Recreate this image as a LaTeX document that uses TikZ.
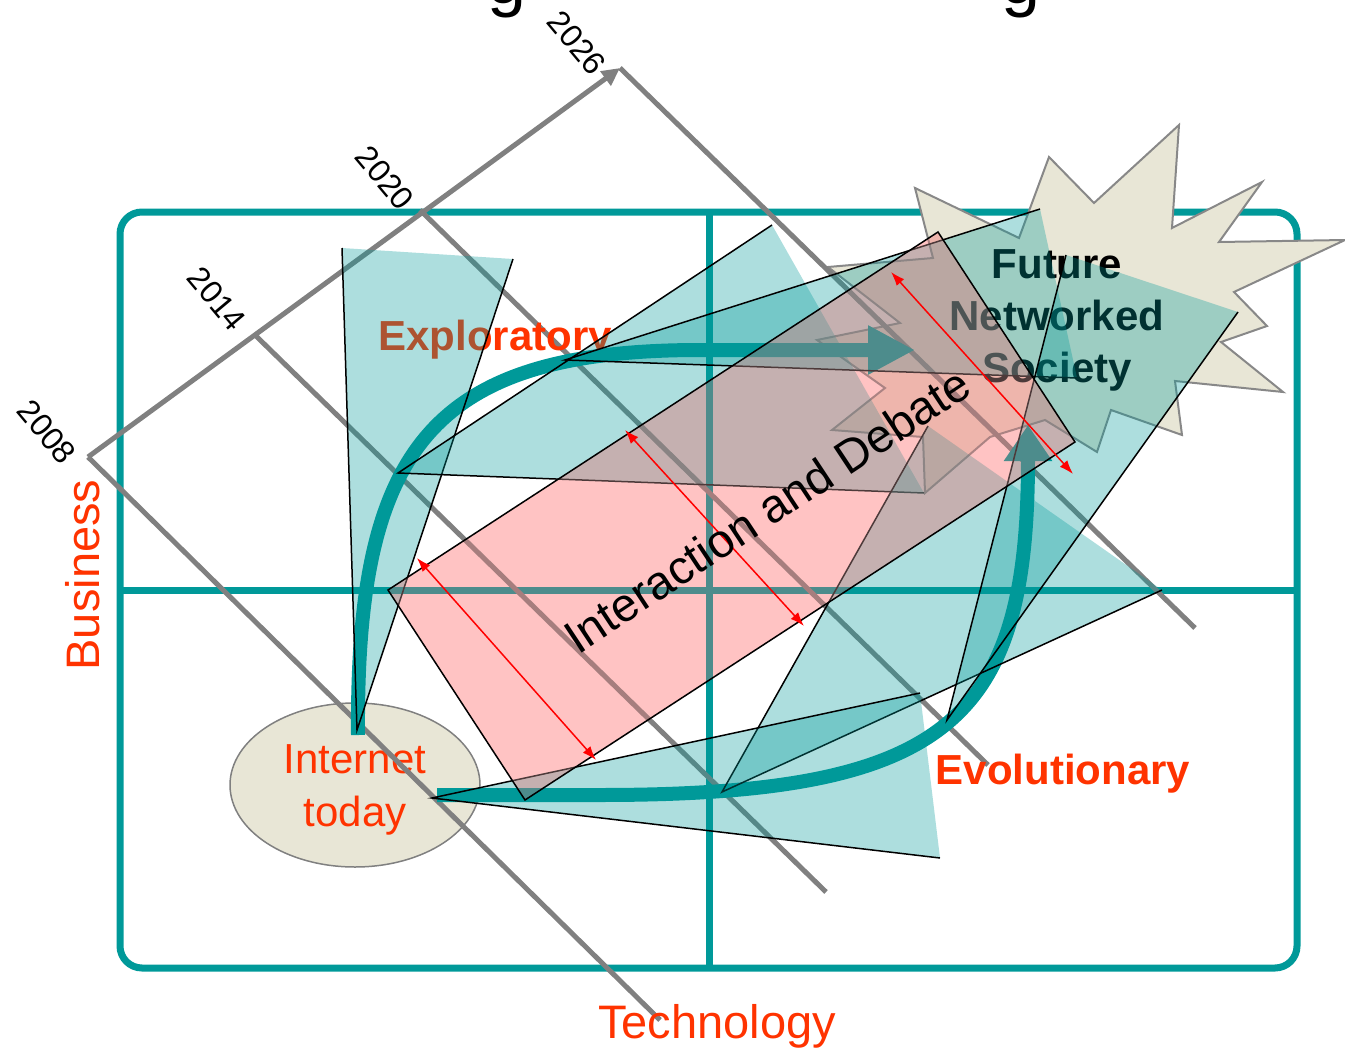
\documentclass[tikz,border=0pt]{standalone}
\usepackage{fontspec}
\setmainfont{Liberation Sans}
\usetikzlibrary{arrows.meta,shapes.geometric}
\definecolor{teal0}{HTML}{009999}
\definecolor{rorange}{HTML}{FF3300}
\definecolor{beige}{HTML}{E8E6D6}
\definecolor{pinkf}{HTML}{FFC3C3}
\definecolor{axisgray}{HTML}{808080}
\definecolor{stargray}{HTML}{888888}
\begin{document}
\begin{tikzpicture}[x=1pt,y=-1pt,
  framel/.style={draw=teal0,line width=7pt},
  axisl/.style={draw=axisgray,line width=5pt},
  fanfill/.style={fill=teal0,fill opacity=0.32},
  fanedge/.style={draw=black,line width=1.5pt},
  flow/.style={draw=teal0,line width=14pt},
  redarr/.style={draw=red,line width=1.5pt,{Latex[length=14pt,width=10pt]}-{Latex[length=14pt,width=10pt]}},
  year/.style={font=\fontsize{32}{34}\selectfont,rotate=-50,inner sep=0},
  axislab/.style={font=\fontsize{47}{50}\selectfont,text=rorange,inner sep=0},
  boldlab/.style={font=\fontsize{42}{46}\selectfont\bfseries,text=rorange,inner sep=0},
]
\useasboundingbox (0,0) rectangle (1345,1052);

% frame
\draw[framel,rounded corners=22pt] (120,212) rectangle (1297,968);
\draw[framel] (709,212) -- (709,968);
\draw[framel] (120,590) -- (1297,590);

% starburst
\draw[draw=stargray,line width=2pt,fill=beige,line join=miter]
 (828,267) -- (933,258) -- (915,188) -- (1019,238) -- (1049,157) -- (1094,203)
 -- (1179,125) -- (1172,228) -- (1262,182) -- (1219,242) -- (1345,240)
 -- (1234,292) -- (1267,326) -- (1221,342) -- (1283,392) -- (1175,381)
 -- (1182,435) -- (1111,410) -- (1097,452) -- (1045,420) -- (990,437) -- (925,493)
 -- (923,437) -- (832,430) -- (885,388) -- (817,340) -- (900,323) -- cycle;

% Internet today
\node[ellipse,draw=axisgray,line width=1.5pt,fill=beige,minimum width=250pt,minimum height=164pt,inner sep=0] (inet) at (355,785) {};
\node[font=\fontsize{42}{53}\selectfont,text=rorange,align=center,inner sep=0] (inettxt) at (355,790) {Internet\\today};

% time axes
\coordinate (o8) at (88,457);
\coordinate (o14) at (255,335);
\coordinate (o20) at (420,210);
\coordinate (o26) at (620,68);
\coordinate (e8) at (660,1020);
\coordinate (e14) at (826,892);
\coordinate (e20) at (988,765);
\coordinate (e26) at (1195,628);
\draw[axisl] (o8) -- (e8);
\draw[axisl] (o14) -- (e14);
\draw[axisl] (o20) -- (e20);
\draw[axisl] (o26) -- (e26);
\draw[axisl,-{Triangle[length=18pt,width=17pt]}] (o8) -- (o26);

% texts under the fans
\node[boldlab] (expl) at (495,340) {Exploratory};
\node[font=\fontsize{42}{52}\selectfont\bfseries,align=center,inner sep=0] (fut) at (1057,320) {Future\\Networked\\Society};

% flows
\draw[flow,-{Triangle[length=47pt,width=46pt]}] (358,735) .. controls (356,450) and (430,350) .. (700,350) -- (915,350);
\draw[flow,-{Triangle[length=36pt,width=46pt]}] (437,795) -- (600,795) .. controls (950,795) and (1028,720) .. (1028,425);

% fans
\fill[fanfill] (357,730) -- (342,248) -- (513,259) -- cycle;
\draw[fanedge] (342,248) -- (357,730) -- (513,259);
\fill[fanfill] (398,473) -- (772,225) -- (924,493) -- cycle;
\draw[fanedge] (772,225) -- (398,473) -- (924,493);
\fill[fanfill] (565,360) -- (1040,209) -- (1077,378) -- cycle;
\draw[fanedge] (1040,209) -- (565,360) -- (1077,378);
\fill[fanfill] (722,792) -- (928,426) -- (1162,590) -- cycle;
\draw[fanedge] (928,426) -- (722,792) -- (1162,590);
\fill[fanfill] (432,798) -- (920,693) -- (940,858) -- cycle;
\draw[fanedge] (920,693) -- (432,798) -- (940,858);
\fill[fanfill] (947,720) -- (1066,255) -- (1238,312) -- cycle;
\draw[fanedge] (1066,255) -- (947,720) -- (1238,312);

% interaction and debate
\begin{scope}[blend mode=multiply]
\fill[pinkf] (388,590) -- (938,232) -- (1075,442) -- (525,800) -- cycle;
\end{scope}
\fill[pinkf,fill opacity=0.3] (388,590) -- (938,232) -- (1075,442) -- (525,800) -- cycle;
\draw[black,line width=1.5pt] (388,590) -- (938,232) -- (1075,442) -- (525,800) -- cycle;
\draw[redarr] (417,558) -- (596,760);
\draw[redarr] (625,430) -- (804,626);
\draw[redarr] (891,272) -- (1073,474);
\node[font=\fontsize{47}{50}\selectfont,rotate=33.5,inner sep=0] (inter) at (767,510) {Interaction and Debate};

% labels
\node[year] (y2026) at (577,43) {2026};
\node[year] (y2020) at (385,178) {2020};
\node[year] (y2014) at (217,299) {2014};
\node[year] (y2008) at (47,432) {2008};
\node[axislab,rotate=90] (bus) at (83,575) {Business};
\node[axislab] (tech) at (717,1026) {Technology};
\node[boldlab] (evol) at (1063,774) {Evolutionary};
\node[font=\fontsize{70}{74}\selectfont,anchor=base,inner sep=0] (tg1) at (507,3) {g};
\node[font=\fontsize{70}{74}\selectfont,anchor=base,inner sep=0] (tg2) at (1021,3) {g};
\end{tikzpicture}
\end{document}
